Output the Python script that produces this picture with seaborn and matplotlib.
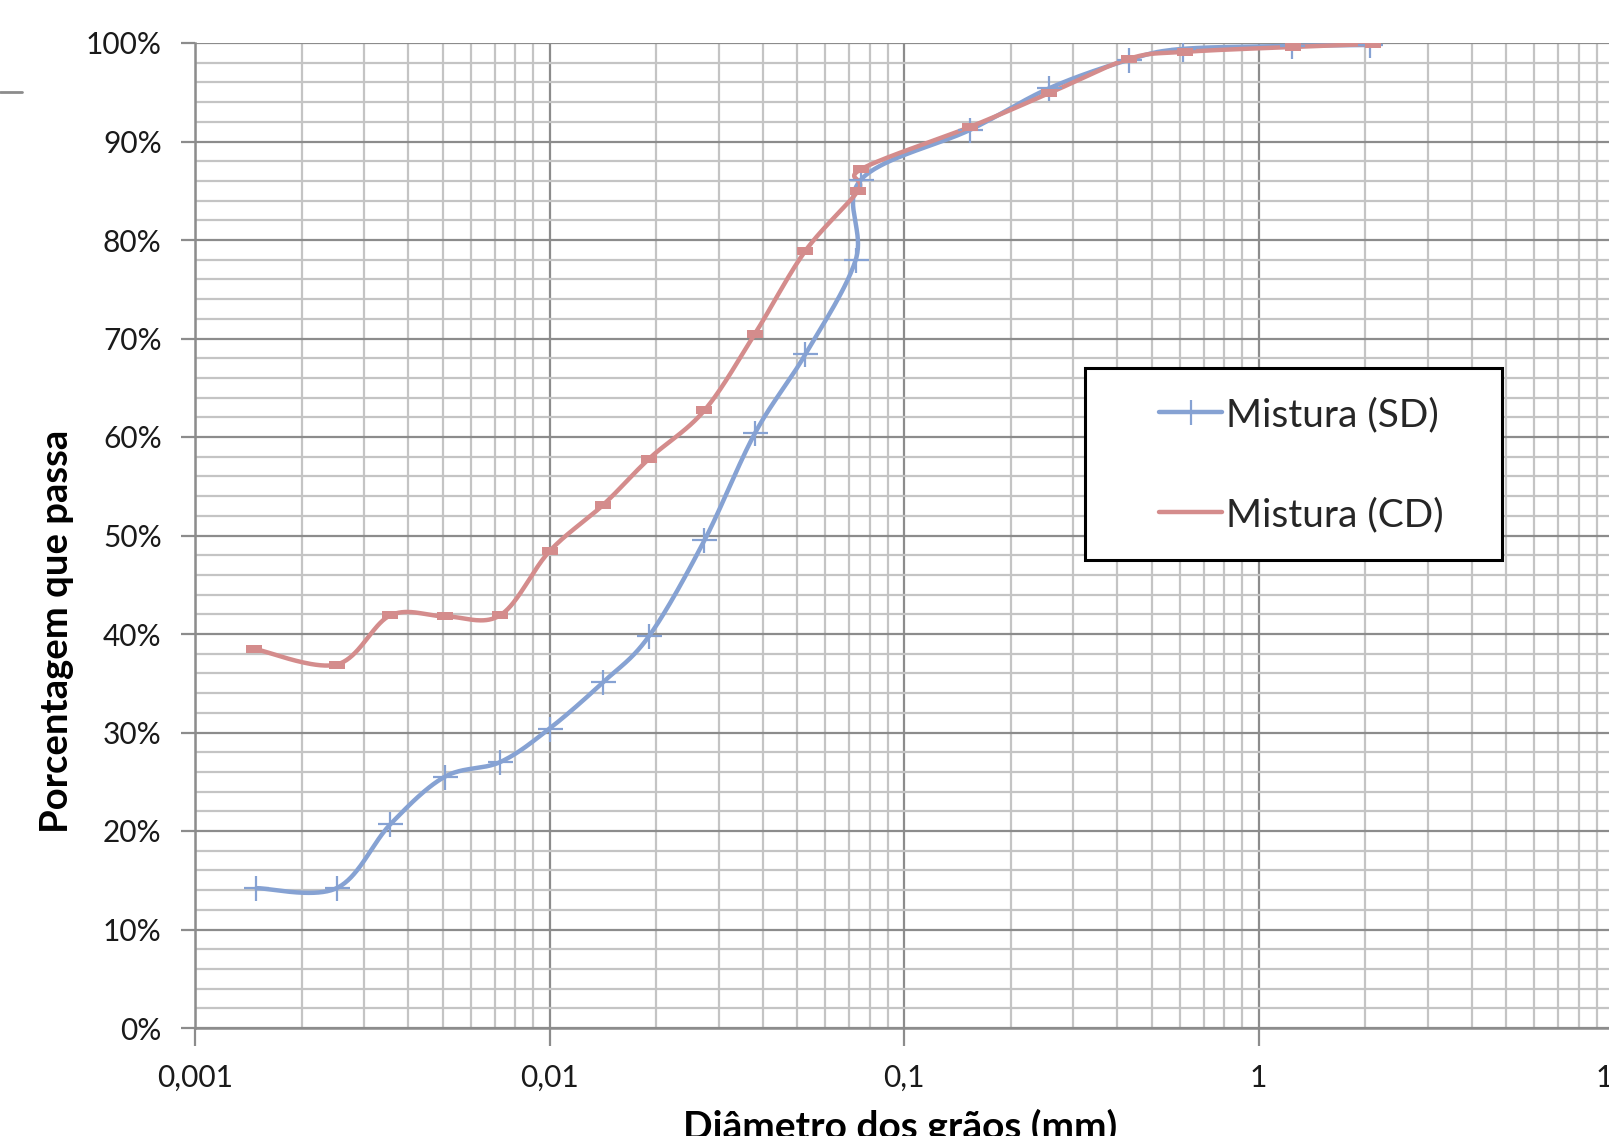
import numpy as np
import matplotlib
matplotlib.use("Agg")
import matplotlib.pyplot as plt
import seaborn as sns
from matplotlib.lines import Line2D
from matplotlib.patches import Rectangle
from matplotlib.ticker import FixedLocator, FixedFormatter, FuncFormatter, MultipleLocator

# diameters (mm) and percent passing
diam_sd = [0.00149, 0.00251, 0.00356, 0.00506, 0.00726, 0.0100, 0.01416, 0.0191,
           0.02735, 0.0380, 0.0527, 0.0731, 0.0755, 0.154, 0.2565, 0.431, 0.611, 1.24, 2.06]
pass_sd = [14.2, 14.2, 20.7, 25.5, 27.0, 30.4, 35.1, 39.8,
           49.5, 60.4, 68.4, 78.0, 86.1, 91.2, 95.4, 98.3, 99.4, 99.7, 99.8]

diam_cd = [0.00147, 0.00251, 0.00356, 0.00506, 0.00726, 0.0100, 0.01416, 0.0191,
           0.02735, 0.0380, 0.0527, 0.0742, 0.0758, 0.154, 0.2565, 0.431, 0.62, 1.25, 2.10]
pass_cd = [38.5, 36.9, 41.9, 41.8, 41.9, 48.4, 53.1, 57.8,
           62.7, 70.5, 78.9, 85.0, 87.2, 91.5, 94.9, 98.4, 99.1, 99.6, 99.9]

x_ticks = [0.001, 0.01, 0.1, 1, 10]
x_tick_labels = ["0,001", "0,01", "0,1", "1", "10"]
series_names = ["Mistura (SD)", "Mistura (CD)"]

blue = "#86A2D3"
red = "#D48C8C"

# px per decade / px per percent, so the smoothing works in screen space like Excel
PX_DEC = 355.0
PX_PCT = 9.87


def excel_smooth(xs, ys, n=40):
    u = np.log10(np.asarray(xs)) * PX_DEC
    v = np.asarray(ys) * PX_PCT
    pts = np.column_stack([u, v])
    t = np.linspace(0, 1, n)[:, None]
    out = []
    for i in range(len(pts) - 1):
        p0 = pts[i - 1] if i > 0 else pts[i]
        p1 = pts[i]
        p2 = pts[i + 1]
        p3 = pts[i + 2] if i + 2 < len(pts) else pts[i + 1]
        c1 = p1 + (p2 - p0) / 6
        c2 = p2 - (p3 - p1) / 6
        seg = ((1 - t) ** 3) * p1 + 3 * ((1 - t) ** 2) * t * c1 + 3 * (1 - t) * t ** 2 * c2 + t ** 3 * p2
        out.append(seg if i == 0 else seg[1:])
    out = np.vstack(out)
    return 10 ** (out[:, 0] / PX_DEC), out[:, 1] / PX_PCT


sns.set_style("white")
plt.rcParams['font.family'] = ['Lato', 'DejaVu Sans']

W, H = 1609, 1136
fig = plt.figure(figsize=(W / 100, H / 100), dpi=100)
ax = fig.add_axes([195 / W, (H - 1028) / H, (1613 - 195) / W, (1028 - 43) / H])

ax.set_xscale("log")
ax.set_xlim(0.001, 10)
ax.set_ylim(0, 100)

# grid
ax.set_axisbelow(True)
ax.yaxis.set_major_locator(MultipleLocator(10))
ax.yaxis.set_minor_locator(MultipleLocator(2))
ax.xaxis.set_major_locator(FixedLocator(x_ticks))
ax.xaxis.set_major_formatter(FixedFormatter(x_tick_labels))
minor_x = [m * 10.0 ** e for e in range(-3, 1) for m in range(2, 10)]
ax.xaxis.set_minor_locator(FixedLocator(minor_x))
ax.xaxis.set_minor_formatter(FixedFormatter([""] * len(minor_x)))
ax.grid(which="minor", color="#C4C4C4", lw=1.6)
ax.grid(which="major", color="#8C8C8C", lw=1.6)
ax.yaxis.set_major_formatter(FuncFormatter(lambda v, p: f"{v:.0f}%"))

for s in ["top", "right"]:
    ax.spines[s].set_visible(False)
for s in ["left", "bottom"]:
    ax.spines[s].set_color("#8C8C8C")
    ax.spines[s].set_linewidth(1.8)

ax.tick_params(axis="both", which="major", direction="out", color="#8C8C8C",
               width=1.6, labelsize=21.5, labelcolor="#1a1a1a")
ax.tick_params(axis="y", which="major", length=10, pad=14, left=True)
ax.tick_params(axis="x", which="major", length=13, pad=13, bottom=True)
ax.tick_params(which="minor", length=0)

# curves
sx, sy = excel_smooth(diam_sd, pass_sd)
cx, cy = excel_smooth(diam_cd, pass_cd)
sns.lineplot(x=sx, y=sy, sort=False, estimator=None, color=blue, lw=3.2, ax=ax)
sns.lineplot(x=cx, y=cy, sort=False, estimator=None, color=red, lw=3.2, ax=ax)

dash_marker = [(-1, -0.55), (1, -0.55), (1, 0.55), (-1, 0.55), (-1, -0.55)]
ax.plot(diam_sd, pass_sd, ls="none", marker="+", ms=18, mew=1.6, color=blue)
ax.plot(diam_cd, pass_cd, ls="none", marker=dash_marker, ms=11, mew=0, color=red)

ax.set_xlabel("")
ax.set_ylabel("")

# axis titles
fig.text(57 / W, 1 - 631 / H, "Porcentagem que passa", rotation=90, ha="center", va="center",
         fontsize=27.5, fontweight="bold", color="black")
fig.text(900 / W, 1 - 1109 / H, "Diâmetro dos grãos (mm)", ha="center", va="top",
         fontsize=28, fontweight="bold", color="black")

# legend box
fig.patches.append(Rectangle((1085 / W, 1 - 560 / H), (1502 - 1085) / W, (560 - 368) / H,
                             transform=fig.transFigure, facecolor="white", edgecolor="black",
                             lw=2.2, zorder=4))
handles = [Line2D([], [], color=blue, lw=3.2, marker="+", ms=18, mew=1.6),
           Line2D([], [], color=red, lw=3.2)]
fig.legend(handles, series_names, loc="center left",
           bbox_to_anchor=(1140 / W, 1 - 465 / H), frameon=False, fontsize=28,
           handlelength=1.6, handletextpad=0.1, labelspacing=1.65, borderpad=0)

# small stray line at top-left
fig.add_artist(Line2D([0, 22 / W], [1 - 92 / H, 1 - 92 / H], color="#8C8C8C", lw=2))

fig.savefig("out.png", dpi=100)
